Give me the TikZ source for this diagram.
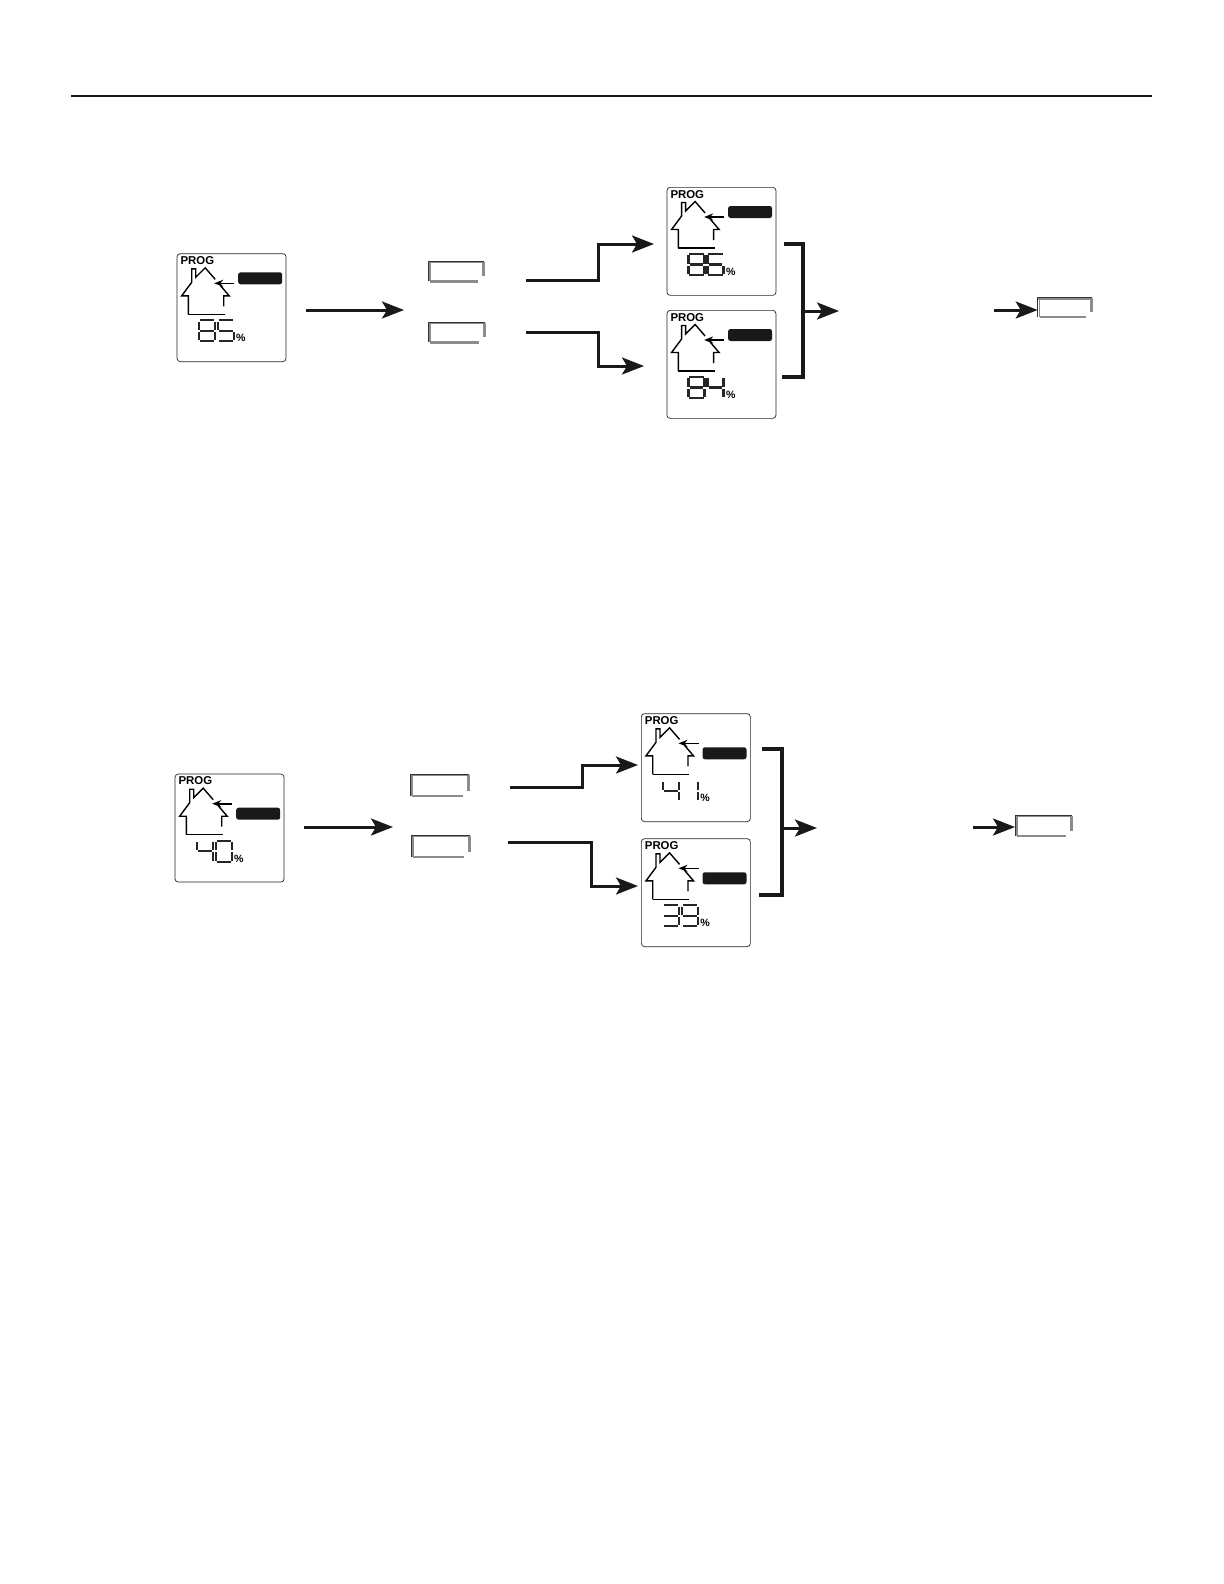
\documentclass[tikz,border=0pt]{standalone}
\usepackage{fontspec}
\setmainfont{Liberation Sans}
\usetikzlibrary{arrows.meta}

\expandafter\def\csname lcd0\endcsname{a,b,c,d,e,f}
\expandafter\def\csname lcd1\endcsname{b,c}
\expandafter\def\csname lcd3\endcsname{a,b,c,d,g}
\expandafter\def\csname lcd4\endcsname{b,c,f,g}
\expandafter\def\csname lcd5\endcsname{a,c,d,f,g}
\expandafter\def\csname lcd6\endcsname{a,c,d,e,f,g}
\expandafter\def\csname lcd8\endcsname{a,b,c,d,e,f,g}
\expandafter\def\csname lcd9\endcsname{a,b,c,d,f,g}

\tikzset{
	panel/.style={draw=black!85, line width=0.35pt, rounded corners=1.6pt, anchor=north west,
		inner sep=0pt, minimum width=54.5pt, minimum height=54pt},
	pill/.style={fill=black!90, rounded corners=1.2pt, inner sep=0pt, minimum width=22pt, minimum height=6pt},
	progtext/.style={anchor=base west, inner sep=0pt, font=\fontsize{5.7}{6}\selectfont\bfseries},
	pcttext/.style={anchor=base west, inner sep=0pt, font=\fontsize{5.3}{6}\selectfont\bfseries},
	house/.style={draw=black, line width=0.7pt},
	lcdline/.style={draw=black!85, line width=1.15pt},
	seg a/.style={insert path={(0.8,0)--(15.2,0)}},
	seg b/.style={insert path={(16,1.2)--(16,9.5)}},
	seg c/.style={insert path={(16,11.5)--(16,19.8)}},
	seg d/.style={insert path={(0.8,21)--(15.2,21)}},
	seg e/.style={insert path={(0,11.5)--(0,19.8)}},
	seg f/.style={insert path={(0,1.2)--(0,9.5)}},
	seg g/.style={insert path={(1.2,10.5)--(14.8,10.5)}},
	btnbox/.style={anchor=north west, inner sep=0pt},
	btnedge/.style={draw=black!80, line width=0.4pt},
	btnshade/.style={draw=black!45, line width=1.2pt},
	flow/.style={draw=black!90, line width=1.5pt, -{Stealth[length=11pt,width=8.5pt,inset=2.5pt]}},
	bracket/.style={draw=black!90, line width=1.6pt}
}

% one digit of the display
\newcommand{\lcddigit}[2]{
	\begin{scope}[shift={(#1,67)}]
		\edef\lcdsegs{\csname lcd#2\endcsname}
		\foreach \s in \lcdsegs {\draw[lcdline, seg \s];}
	\end{scope}
}

% name, left, top, height of the pill, two digits
\newcommand{\lcdpanel}[6]{
	\node[panel] (#1) at (#2,#3) {};
	\begin{scope}[shift={(#2,#3)}]
		\node[progtext] (#1prog) at (3.5,11) {PROG};
		\draw[house] (11.7,61) -- (11.7,42.5) -- (5,42.5) -- (15,29) -- (15,15.5) -- (19,15.5)
			-- (19,24) -- (28.5,14.5) -- (38.5,26);
		\draw[house] (43.5,32) -- (52.5,42.5) -- (47,42.5) -- (47,53);
		\draw[house] (11.7,61) -- (48,61);
		\node[pill] (#1pill) at (83.5,#4) {};
		\coordinate (#1tail) at (57.5,30);
		\coordinate (#1head) at (37.5,30);
		\draw[house, line width=0.8pt, -{Stealth[length=4.5pt,width=3.5pt]}] (#1tail) -- (#1head);
		\lcddigit{22}{#5}
		\lcddigit{41}{#6}
		\node[pcttext] (#1pct) at (59,88.5) {\%};
	\end{scope}
}

% name, left, top, width, height
\newcommand{\btnkey}[5]{
	\node[btnbox, minimum width=#4*0.5pt, minimum height=#5*0.5pt] (#1) at (#2,#3) {};
	\draw[btnshade] ([xshift=1pt]#1.south west) -- ([xshift=-3pt]#1.south east);
	\draw[btnshade] ([xshift=-0.2pt,yshift=-0.4pt]#1.north east) -- ([xshift=-0.2pt,yshift=2.5pt]#1.south east);
	\draw[btnshade, line width=0.7pt] ([xshift=1pt]#1.north west) -- ([xshift=1pt]#1.south west);
	\draw[btnshade, line width=0.7pt] ([yshift=-0.8pt]#1.north west) -- ([yshift=-0.8pt]#1.north east);
	\draw[btnedge] (#1.south west) -- (#1.north west) -- (#1.north east);
}

\begin{document}
\begin{tikzpicture}[x=0.5pt, y=-0.5pt]
	\useasboundingbox (0,0) rectangle (1224,1584);

	\coordinate (ruleleft) at (71,96);
	\coordinate (ruleright) at (1152,96);
	\draw[line width=0.75pt, draw=black!90] (ruleleft) -- (ruleright);

	% upper row
	\lcdpanel{now85}{176.7}{253.3}{25}{8}{5}
	\lcdpanel{up86}{666.6}{187}{25}{8}{6}
	\lcdpanel{down84}{666.6}{310}{25}{8}{4}
	\btnkey{upperup}{428}{261}{55}{19.5}
	\btnkey{upperdown}{428}{322}{56}{19.5}
	\btnkey{upperdone}{1037.7}{297.5}{53.5}{18.5}

	\coordinate (a1) at (306,310);
	\coordinate (a2) at (404,310);
	\coordinate (b1) at (526,280);
	\coordinate (b2) at (598,244);
	\coordinate (b3) at (654,244);
	\coordinate (c1) at (526,332);
	\coordinate (c2) at (598,366);
	\coordinate (c3) at (644,366);
	\coordinate (d1) at (784,244);
	\coordinate (d2) at (803,244);
	\coordinate (d3) at (803,377);
	\coordinate (d4) at (782,377);
	\coordinate (e1) at (803,311);
	\coordinate (e2) at (839,311);
	\coordinate (f1) at (994,310);
	\draw[flow] (a1) -- (a2);
	\draw[flow] (b1) -| (b2) -- (b3);
	\draw[flow] (c1) -| (c2) -- (c3);
	\draw[bracket] (d1) -- (d2) -- (d3) -- (d4);
	\draw[flow] (e1) -- (e2);
	\draw[flow] (f1) -- (upperdone.west |- f1);

	% lower row
	\lcdpanel{now40}{174.7}{773.7}{40}{4}{0}
	\lcdpanel{up41}{641}{713.3}{40}{4}{1}
	\lcdpanel{down39}{641}{838.3}{40}{3}{9}
	\btnkey{lowerup}{410}{774}{58}{21}
	\btnkey{lowerdown}{411}{835}{58}{21}
	\btnkey{lowerdone}{1015}{815}{56}{20}

	\coordinate (g1) at (304,827);
	\coordinate (g2) at (393,827);
	\coordinate (h1) at (510,787);
	\coordinate (h2) at (582,765);
	\coordinate (h3) at (638,765);
	\coordinate (i1) at (508,842);
	\coordinate (i2) at (591,886);
	\coordinate (i3) at (638,886);
	\coordinate (j1) at (762,749);
	\coordinate (j2) at (782,749);
	\coordinate (j3) at (782,895);
	\coordinate (j4) at (759,895);
	\coordinate (k1) at (782,828);
	\coordinate (k2) at (817,828);
	\coordinate (l1) at (973,827);
	\draw[flow] (g1) -- (g2);
	\draw[flow] (h1) -| (h2) -- (h3);
	\draw[flow] (i1) -| (i2) -- (i3);
	\draw[bracket] (j1) -- (j2) -- (j3) -- (j4);
	\draw[flow] (k1) -- (k2);
	\draw[flow] (l1) -- (lowerdone.west |- l1);
\end{tikzpicture}
\end{document}
